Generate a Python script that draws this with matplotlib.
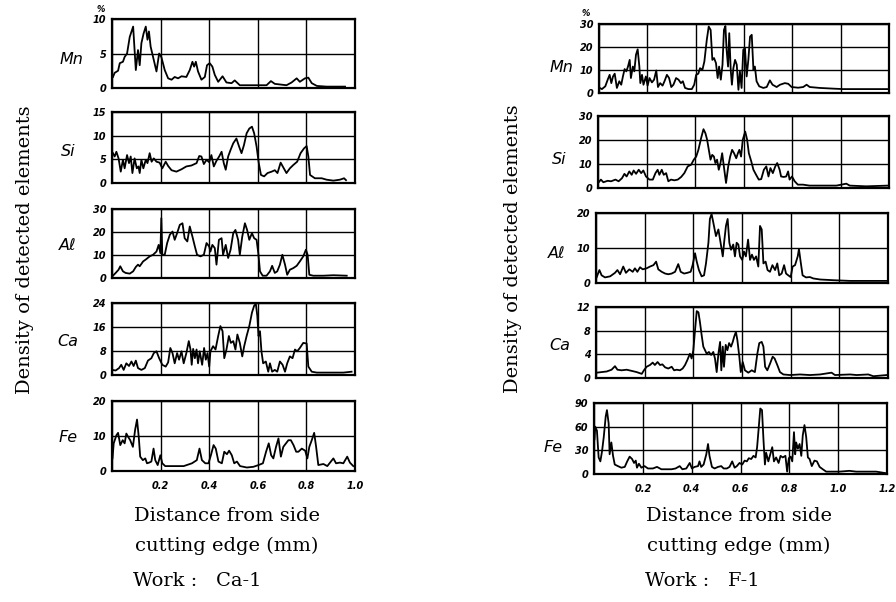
"""Two stacked-panel EPMA traces: element density vs distance from side cutting edge (Ca-1 and F-1)."""
import matplotlib

matplotlib.use("Agg")
import matplotlib.pyplot as plt

W, H = 896, 602

# ---- data: (distance mm, density) ----
ca1_mn = [(.004, 1.6), (.011, 2.2), (.025, 2.5), (.032, 3.6), (.045, 3.8), (.052, 4.5), (.062, 5.0), (.073, 7.4),
          (.087, 8.9), (.098, 2.6), (.107, 5.5), (.114, 3.3), (.121, 6.5), (.130, 7.9), (.139, 8.9), (.146, 7.0),
          (.152, 8.2), (.159, 6.0), (.169, 4.5), (.183, 2.4), (.194, 5.0), (.203, 4.5), (.217, 2.6), (.231, 1.4),
          (.245, 1.2), (.258, 1.6), (.272, 1.4), (.286, 1.7), (.306, 1.6), (.320, 2.6), (.331, 3.8), (.338, 3.1),
          (.345, 3.8), (.354, 2.4), (.368, 1.2), (.382, 1.6), (.391, 3.3), (.402, 3.6), (.413, 3.1), (.423, 1.9),
          (.437, 0.9), (.455, 1.7), (.471, 0.8), (.492, 0.7), (.505, 1.1), (.526, 0.4), (.595, 0.4), (.636, 0.4),
          (.654, 1.0), (.670, 0.6), (.718, 0.4), (.739, 0.8), (.760, 1.4), (.773, 0.9), (.794, 1.4), (.808, 1.5),
          (.822, 0.7), (.843, 0.3), (.883, 0.2), (.938, 0.2), (.959, 0.2)]
ca1_si = [(.004, 6.3), (.011, 5.6), (.018, 6.6), (.027, 5.2), (.036, 2.4), (.045, 4.9), (.052, 3.1), (.062, 5.9),
          (.070, 4.2), (.077, 5.6), (.084, 2.1), (.093, 5.2), (.102, 3.1), (.109, 3.5), (.114, 2.1), (.121, 4.9),
          (.129, 3.1), (.139, 4.9), (.146, 4.2), (.155, 6.3), (.163, 4.5), (.172, 5.2), (.183, 4.5), (.196, 4.3),
          (.207, 3.1), (.221, 4.5), (.231, 3.6), (.245, 2.7), (.265, 2.4), (.286, 2.9), (.306, 3.5), (.327, 3.7),
          (.348, 4.2), (.359, 5.7), (.368, 5.6), (.378, 4.0), (.389, 4.9), (.400, 4.4), (.409, 5.9), (.419, 3.5),
          (.430, 4.7), (.441, 5.6), (.451, 6.6), (.460, 4.2), (.468, 2.8), (.478, 5.6), (.488, 7.0), (.499, 8.4),
          (.512, 9.4), (.523, 7.7), (.533, 6.3), (.543, 8.0), (.554, 10.5), (.565, 11.5), (.576, 11.9), (.585, 10.5),
          (.595, 7.7), (.604, 4.2), (.613, 1.7), (.626, 1.4), (.640, 2.1), (.657, 2.4), (.670, 2.7), (.681, 2.1),
          (.694, 4.3), (.707, 3.1), (.718, 2.1), (.732, 3.1), (.746, 3.8), (.762, 4.5), (.776, 6.3), (.790, 7.3),
          (.801, 7.8), (.808, 5.6), (.815, 1.7), (.835, 1.0), (.863, 1.0), (.883, 0.7), (.911, 0.5), (.938, 0.7),
          (.955, 1.0), (.963, 0.6)]
ca1_al = [(.004, 1.0), (.015, 2.2), (.027, 3.6), (.034, 5.1), (.045, 2.9), (.056, 2.2), (.073, 1.9), (.087, 2.9),
          (.098, 4.8), (.107, 5.8), (.114, 5.1), (.128, 7.2), (.141, 8.2), (.155, 9.4), (.169, 10.1), (.183, 11.5),
          (.192, 14.4), (.199, 10.8), (.203, 26.0), (.207, 10.1), (.217, 10.1), (.227, 15.2), (.238, 18.8),
          (.249, 20.2), (.258, 16.6), (.268, 19.5), (.279, 23.1), (.290, 23.8), (.299, 17.3), (.310, 15.9),
          (.320, 22.4), (.331, 18.0), (.341, 13.7), (.350, 10.1), (.364, 9.4), (.378, 10.1), (.389, 15.2),
          (.400, 13.7), (.405, 11.5), (.413, 14.4), (.423, 13.0), (.430, 5.8), (.440, 16.6), (.451, 17.3),
          (.457, 10.1), (.468, 14.4), (.478, 8.7), (.488, 12.3), (.499, 19.5), (.508, 20.9), (.519, 16.6),
          (.526, 10.1), (.536, 18.0), (.547, 23.8), (.556, 20.9), (.565, 16.6), (.576, 19.5), (.585, 17.3),
          (.595, 16.6), (.602, 10.8), (.609, 2.9), (.620, 1.0), (.636, 1.0), (.650, 2.9), (.659, 5.3), (.670, 2.2),
          (.680, 2.9), (.691, 5.8), (.701, 10.1), (.712, 5.8), (.721, 1.4), (.732, 3.6), (.746, 4.3), (.760, 5.3),
          (.773, 7.2), (.787, 9.4), (.798, 12.3), (.805, 10.1), (.812, 1.4), (.828, 1.0), (.870, 1.0), (.911, 1.2),
          (.966, 1.0)]
ca1_ca = [(.001, 1.7), (.015, 1.5), (.029, 2.3), (.038, 3.4), (.048, 1.7), (.059, 3.9), (.070, 3.0), (.080, 4.5),
          (.089, 3.0), (.098, 4.8), (.107, 2.3), (.121, 1.7), (.135, 2.3), (.148, 4.8), (.162, 5.6), (.172, 7.3),
          (.183, 7.9), (.194, 5.6), (.207, 3.4), (.221, 2.8), (.231, 4.2), (.240, 9.0), (.249, 7.3), (.258, 3.9),
          (.268, 7.3), (.276, 5.1), (.286, 7.9), (.295, 3.9), (.306, 7.3), (.316, 11.3), (.323, 8.5), (.328, 3.4),
          (.334, 8.7), (.341, 5.6), (.348, 8.5), (.354, 3.9), (.361, 7.9), (.371, 3.4), (.379, 9.0), (.386, 5.1),
          (.393, 7.3), (.400, 2.8), (.405, 7.9), (.416, 9.6), (.426, 8.5), (.437, 13.0), (.446, 16.3), (.455, 14.6),
          (.462, 5.6), (.471, 8.5), (.481, 13.0), (.489, 10.7), (.499, 11.3), (.508, 8.5), (.516, 13.5),
          (.526, 10.7), (.536, 6.2), (.544, 9.6), (.554, 13.0), (.565, 16.3), (.576, 20.8), (.585, 23.1),
          (.592, 23.7), (.598, 19.7), (.603, 13.0), (.609, 14.6), (.615, 7.9), (.622, 3.9), (.633, 4.5), (.643, 1.1),
          (.650, 3.9), (.659, 1.1), (.670, 1.7), (.680, 1.1), (.691, 4.5), (.702, 3.4), (.712, 1.1), (.721, 3.9),
          (.732, 6.2), (.743, 5.6), (.753, 8.5), (.762, 7.9), (.773, 9.0), (.787, 10.7), (.801, 10.5), (.808, 2.8),
          (.822, 1.1), (.843, 0.8), (.897, 0.8), (.952, 0.8), (.986, 1.1)]
ca1_fe = [(.002, 3.6), (.007, 7.9), (.018, 10.2), (.025, 10.9), (.034, 7.4), (.044, 8.8), (.052, 7.9), (.059, 10.7),
          (.066, 9.8), (.075, 8.8), (.086, 6.9), (.095, 11.7), (.103, 14.7), (.110, 9.8), (.116, 4.1), (.127, 3.1),
          (.137, 3.6), (.144, 2.2), (.153, 2.4), (.162, 2.7), (.171, 6.4), (.178, 3.1), (.188, 1.7), (.199, 4.5),
          (.207, 2.2), (.219, 1.4), (.253, 1.4), (.295, 1.4), (.329, 2.2), (.349, 3.1), (.360, 6.4), (.370, 3.1),
          (.384, 2.2), (.397, 2.2), (.407, 4.5), (.418, 7.4), (.427, 6.4), (.438, 2.7), (.452, 2.2), (.462, 5.5),
          (.473, 4.8), (.482, 5.8), (.493, 4.5), (.503, 2.2), (.514, 2.7), (.527, 1.4), (.555, 1.0), (.582, 1.2),
          (.603, 1.7), (.621, 2.2), (.634, 5.5), (.645, 7.9), (.655, 4.5), (.664, 3.6), (.675, 6.9), (.685, 9.3),
          (.695, 4.1), (.705, 6.9), (.716, 7.9), (.726, 8.8), (.736, 8.8), (.747, 7.4), (.758, 5.5), (.767, 5.5),
          (.781, 6.4), (.795, 5.8), (.804, 3.6), (.812, 6.9), (.822, 8.8), (.832, 10.9), (.840, 6.9), (.849, 1.7),
          (.870, 2.0), (.886, 1.4), (.911, 3.6), (.922, 2.2), (.938, 2.4), (.952, 2.2), (.968, 4.1), (.979, 2.4),
          (.993, 1.4)]

f1_mn = [(.003, 2.2), (.012, 1.7), (.026, 2.9), (.036, 5.8), (.044, 7.9), (.051, 4.3), (.058, 7.2), (.065, 8.4),
         (.074, 2.2), (.084, 5.1), (.092, 3.6), (.099, 7.2), (.106, 10.4), (.113, 9.4), (.120, 11.5), (.127, 14.4),
         (.132, 6.5), (.140, 11.5), (.146, 9.4), (.153, 16.6), (.160, 19.0), (.167, 11.5), (.171, 4.3), (.178, 7.9),
         (.184, 3.6), (.194, 7.2), (.201, 3.2), (.209, 6.5), (.219, 4.6), (.228, 5.8), (.237, 9.8), (.244, 2.6),
         (.253, 4.3), (.263, 3.2), (.271, 5.1), (.281, 7.9), (.290, 6.5), (.299, 2.6), (.308, 3.6), (.319, 6.5),
         (.329, 5.8), (.339, 4.3), (.347, 5.1), (.356, 2.2), (.370, 1.7), (.384, 1.7), (.394, 3.6), (.402, 7.9),
         (.411, 8.4), (.418, 10.8), (.428, 10.1), (.436, 13.7), (.446, 23.1), (.454, 28.9), (.462, 27.4),
         (.469, 14.4), (.476, 15.2), (.484, 13.0), (.491, 6.5), (.497, 11.5), (.504, 5.8), (.511, 12.3),
         (.517, 27.4), (.523, 29.1), (.528, 18.8), (.534, 11.5), (.539, 26.0), (.545, 10.1), (.550, 3.6),
         (.556, 10.8), (.563, 14.4), (.570, 12.3), (.577, 1.4), (.583, 9.4), (.590, 2.2), (.597, 18.8),
         (.604, 19.5), (.611, 7.2), (.618, 14.4), (.625, 24.5), (.632, 25.3), (.639, 10.1), (.645, 11.5),
         (.652, 5.1), (.663, 2.9), (.680, 2.2), (.694, 2.6), (.707, 5.5), (.718, 3.6), (.735, 2.6), (.749, 3.6),
         (.769, 4.3), (.783, 4.0), (.797, 2.6), (.824, 2.3), (.845, 2.6), (.859, 3.6), (.872, 2.6), (.914, 2.2),
         (.969, 1.9), (1.010, 1.7), (1.079, 1.7), (1.148, 1.7), (1.196, 1.7)]
f1_si = [(.003, 2.4), (.012, 3.5), (.022, 2.4), (.040, 3.0), (.054, 2.8), (.072, 3.5), (.085, 2.8), (.099, 4.1),
         (.109, 5.9), (.118, 4.8), (.129, 6.9), (.139, 5.5), (.147, 7.3), (.157, 5.9), (.168, 7.6), (.178, 6.2),
         (.187, 7.3), (.198, 4.8), (.212, 3.5), (.226, 3.5), (.237, 6.2), (.246, 7.6), (.253, 5.5), (.263, 7.6),
         (.271, 5.5), (.281, 6.2), (.290, 2.8), (.301, 3.5), (.315, 3.2), (.329, 3.5), (.343, 4.6), (.356, 6.2),
         (.370, 9.0), (.384, 9.7), (.395, 11.8), (.405, 13.1), (.414, 15.9), (.425, 20.7), (.435, 24.5),
         (.443, 22.8), (.450, 20.1), (.457, 15.9), (.464, 11.8), (.471, 13.8), (.478, 13.1), (.484, 10.4),
         (.491, 11.8), (.498, 7.6), (.505, 10.4), (.512, 14.5), (.519, 9.0), (.528, 2.1), (.537, 9.0), (.545, 13.1),
         (.553, 15.9), (.561, 14.5), (.570, 12.4), (.577, 14.5), (.583, 15.9), (.590, 13.1), (.597, 20.1),
         (.607, 23.5), (.615, 20.1), (.622, 14.5), (.632, 11.1), (.641, 7.6), (.652, 5.5), (.663, 3.5), (.673, 3.7),
         (.684, 7.6), (.694, 9.0), (.703, 4.8), (.711, 8.3), (.721, 6.2), (.731, 9.0), (.739, 10.4), (.749, 7.6),
         (.755, 4.8), (.766, 4.6), (.776, 4.8), (.784, 6.9), (.790, 3.5), (.800, 4.8), (.811, 2.8), (.824, 1.4),
         (.845, 1.4), (.872, 1.0), (.927, 1.0), (.983, 1.0), (1.024, 1.8), (1.038, 1.0), (1.106, 0.7), (1.196, 1.0)]
f1_al = [(.003, 1.7), (.014, 3.7), (.023, 2.2), (.037, 1.6), (.058, 1.9), (.078, 2.9), (.088, 3.7), (.099, 2.5),
         (.112, 4.7), (.123, 2.9), (.137, 3.9), (.151, 3.2), (.160, 4.2), (.170, 3.2), (.181, 4.5), (.192, 3.9),
         (.208, 4.2), (.222, 4.7), (.236, 5.1), (.247, 6.1), (.256, 3.9), (.270, 3.2), (.284, 2.7), (.297, 2.5),
         (.311, 2.7), (.325, 3.2), (.338, 5.4), (.348, 3.2), (.362, 2.7), (.375, 2.9), (.389, 3.2), (.397, 5.1),
         (.407, 8.5), (.414, 6.1), (.423, 3.7), (.434, 1.9), (.444, 2.2), (.452, 5.6), (.462, 11.5), (.468, 18.3),
         (.475, 19.7), (.482, 17.3), (.493, 13.4), (.503, 15.3), (.512, 11.5), (.521, 7.6), (.527, 11.9),
         (.534, 16.3), (.541, 18.3), (.548, 11.5), (.555, 9.5), (.564, 11.0), (.571, 7.6), (.578, 11.5),
         (.585, 11.0), (.592, 7.6), (.601, 6.6), (.608, 9.0), (.616, 7.6), (.625, 12.4), (.633, 6.6), (.641, 8.1),
         (.649, 6.6), (.658, 7.6), (.667, 4.7), (.674, 16.3), (.681, 15.3), (.688, 5.6), (.697, 6.1), (.705, 3.7),
         (.715, 3.2), (.725, 5.1), (.736, 3.7), (.745, 5.6), (.753, 2.2), (.763, 2.7), (.773, 5.1), (.781, 2.7),
         (.790, 2.2), (.800, 1.7), (.808, 4.7), (.818, 5.1), (.829, 7.6), (.834, 9.7), (.841, 6.1), (.849, 2.2),
         (.863, 1.6), (.879, 1.7), (.893, 1.3), (.921, 1.0), (.975, 0.8), (1.044, 0.6), (1.112, 0.6), (1.195, 0.6)]
f1_ca = [(.003, 0.9), (.023, 1.0), (.044, 1.1), (.064, 1.4), (.078, 2.0), (.088, 1.4), (.105, 1.3), (.126, 1.4),
         (.147, 1.2), (.167, 1.0), (.188, 0.7), (.197, 1.3), (.208, 1.9), (.222, 2.2), (.233, 2.6), (.242, 2.2),
         (.253, 2.7), (.263, 2.2), (.273, 2.3), (.284, 1.8), (.297, 1.6), (.311, 1.9), (.321, 1.3), (.332, 1.4),
         (.345, 1.3), (.356, 1.6), (.366, 2.2), (.375, 3.0), (.386, 4.1), (.393, 3.3), (.400, 4.7), (.407, 8.1),
         (.414, 11.3), (.421, 11.1), (.427, 9.5), (.434, 7.3), (.441, 5.3), (.448, 4.7), (.455, 4.1), (.464, 4.4),
         (.473, 3.9), (.482, 4.4), (.489, 3.3), (.496, 1.0), (.503, 4.1), (.510, 6.1), (.515, 1.3), (.521, 5.3),
         (.526, 1.9), (.533, 5.6), (.540, 4.7), (.547, 5.9), (.555, 5.3), (.562, 6.1), (.568, 7.0), (.575, 7.8),
         (.581, 6.4), (.589, 3.6), (.595, 1.0), (.603, 2.7), (.612, 1.3), (.626, 0.9), (.640, 1.3), (.653, 1.0),
         (.663, 4.1), (.671, 5.9), (.681, 6.1), (.688, 5.3), (.695, 1.9), (.704, 1.3), (.715, 2.4), (.726, 3.6),
         (.734, 3.3), (.745, 2.2), (.756, 1.0), (.770, 0.6), (.797, 0.5), (.838, 0.6), (.879, 0.5), (.921, 0.6),
         (.968, 0.9), (.982, 0.5), (1.044, 0.6), (1.071, 0.5), (1.119, 0.6), (1.140, 0.3), (1.195, 0.5)]
f1_fe = [(.002, 44), (.005, 60), (.012, 55), (.019, 21), (.026, 16), (.033, 29), (.040, 47), (.048, 73), (.053, 81),
         (.060, 64), (.064, 25), (.071, 40), (.078, 23), (.085, 12), (.098, 10), (.112, 8), (.126, 9), (.136, 16),
         (.146, 22), (.156, 19), (.164, 14), (.171, 17), (.176, 8), (.184, 13), (.194, 8), (.207, 10), (.221, 7),
         (.241, 7), (.258, 9), (.276, 6), (.296, 6), (.317, 6), (.334, 7), (.351, 10), (.362, 6), (.378, 7),
         (.392, 14), (.401, 7), (.412, 9), (.426, 10), (.432, 16), (.439, 9), (.449, 12), (.460, 25), (.467, 38),
         (.473, 23), (.483, 9), (.494, 7), (.508, 9), (.521, 10), (.531, 7), (.544, 7), (.555, 9), (.566, 16),
         (.576, 8), (.585, 10), (.596, 14), (.607, 12), (.617, 17), (.626, 16), (.634, 20), (.644, 19), (.653, 23),
         (.662, 21), (.668, 34), (.675, 60), (.681, 83), (.688, 81), (.694, 44), (.700, 12), (.705, 27), (.714, 16),
         (.722, 25), (.730, 34), (.737, 16), (.746, 21), (.756, 14), (.764, 23), (.773, 21), (.784, 23), (.791, 3),
         (.798, 20), (.805, 22), (.812, 16), (.819, 53), (.824, 25), (.828, 40), (.835, 32), (.842, 38), (.849, 23),
         (.855, 49), (.862, 62), (.869, 47), (.876, 21), (.883, 19), (.892, 10), (.903, 17), (.913, 16), (.924, 9),
         (.937, 6), (.951, 3), (.978, 3), (1.005, 3), (1.046, 4), (1.074, 3), (1.115, 3), (1.156, 3), (1.196, 1)]

elements = ["Mn", "Si", "Aℓ", "Ca", "Fe"]
ca1_series = [ca1_mn, ca1_si, ca1_al, ca1_ca, ca1_fe]
f1_series = [f1_mn, f1_si, f1_al, f1_ca, f1_fe]
ca1_yticks = [[0, 5, 10], [0, 5, 10, 15], [0, 10, 20, 30], [0, 8, 16, 24], [0, 10, 20]]
f1_yticks = [[0, 10, 20, 30], [0, 10, 20, 30], [0, 10, 20], [0, 4, 8, 12], [0, 30, 60, 90]]
ca1_xticks = [0, 0.2, 0.4, 0.6, 0.8, 1.0]
f1_xticks = [0, 0.2, 0.4, 0.6, 0.8, 1.0, 1.2]

# panel boxes in pixels: (left, right, top, bottom); the scan is slightly skewed on the right
LEFT_BOXES = [(112, 355, 19, 88), (112, 355, 112, 183), (112, 355, 209, 278), (112, 355, 303, 375), (112, 355, 401, 471)]
RIGHT_BOXES = [(599, 889, 24, 93), (598, 889, 116, 188), (596, 888, 213, 283), (596, 888, 307, 378), (594, 887, 403, 474)]
LEFT_NAME_XY = [(71, 59), (68, 151), (68, 246), (68, 342), (68, 438)]
RIGHT_NAME_XY = [(561, 67), (559, 159), (557, 254), (560, 346), (553, 447)]

TICK_FONT = dict(family="DejaVu Sans", style="italic", weight="bold", size=7)
SERIF = ["DejaVu Serif"]

fig = plt.figure(figsize=(W / 100, H / 100), dpi=100)


def fx(px):
    return px / W


def fy(py):
    return 1 - py / H


def panel(box, data, yticks, xticks, bottom):
    l, r, t, b = box
    ax = fig.add_axes([fx(l), fy(b), fx(r - l), (b - t) / H])
    xs = [p[0] for p in data]
    ys = [p[1] for p in data]
    ax.plot(xs, ys, color="black", lw=1.3)
    ax.set_xlim(xticks[0], xticks[-1])
    ax.set_ylim(yticks[0], yticks[-1])
    ax.set_xticks(xticks)
    ax.set_yticks(yticks)
    ax.grid(True, color="black", lw=1.0)
    ax.tick_params(length=0, pad=4)
    ax.set_yticklabels([str(v) for v in yticks], fontdict=TICK_FONT)
    if bottom:
        ax.set_xticklabels([""] + [f"{v:.1f}" for v in xticks[1:]], fontdict=TICK_FONT)
        ax.tick_params(axis="x", pad=7)
    else:
        ax.set_xticklabels([])
    for s in ax.spines.values():
        s.set_linewidth(1.6)
    return ax


for i in range(5):
    panel(LEFT_BOXES[i], ca1_series[i], ca1_yticks[i], ca1_xticks, i == 4)
    panel(RIGHT_BOXES[i], f1_series[i], f1_yticks[i], f1_xticks, i == 4)
    for (x, y) in (LEFT_NAME_XY[i], RIGHT_NAME_XY[i]):
        fig.text(fx(x), fy(y), elements[i], ha="center", va="center", fontsize=11.5,
                 style="italic", family="DejaVu Sans")

fig.text(fx(101), fy(9), "%", ha="center", va="center", fontsize=6, weight="bold", style="italic")
fig.text(fx(586), fy(14), "%", ha="center", va="center", fontsize=6, weight="bold", style="italic")

for x, y in [(25, 250), (513, 249)]:
    fig.text(fx(x), fy(y), "Density of detected elements", rotation=90, ha="center", va="center",
             fontsize=14, family=SERIF)

for cx, work, wx in [(227, "Work :   Ca-1", 133), (739, "Work :   F-1", 645)]:
    fig.text(fx(cx), fy(516), "Distance from side", ha="center", va="center", fontsize=14, family=SERIF)
    fig.text(fx(cx), fy(546), "cutting edge (mm)", ha="center", va="center", fontsize=14, family=SERIF)
    fig.text(fx(wx), fy(581), work, ha="left", va="center", fontsize=14, family=SERIF)

fig.savefig("out.png", dpi=100)
